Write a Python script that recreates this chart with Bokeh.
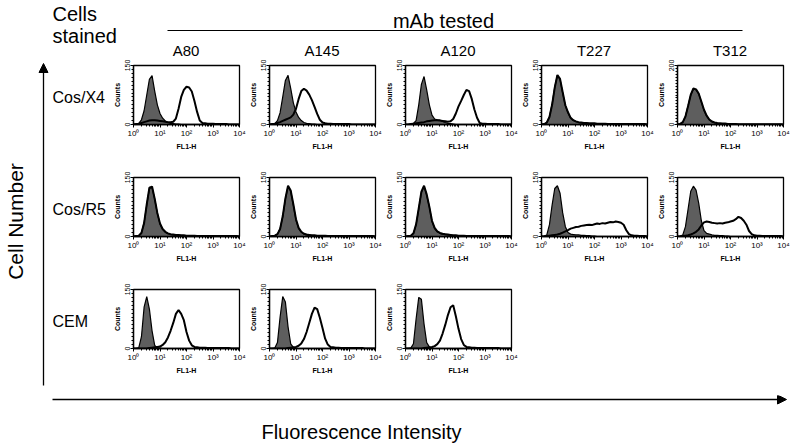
import math
from bokeh.plotting import figure
from bokeh.layouts import row, column
from bokeh.models import Range1d, FixedTicker, CustomJSTickFormatter, Arrow, NormalHead
from bokeh.core.properties import value
from bokeh.embed import file_html
from bokeh.resources import INLINE

# ---------------- data ----------------
# channel positions, log10(FL1-H)
LOG_FL1 = [0.0, 0.1, 0.2, 0.3, 0.4, 0.5, 0.6, 0.7, 0.8, 0.9,
           1.0, 1.1, 1.2, 1.3, 1.4, 1.5, 1.6, 1.7, 1.8, 1.9,
           2.0, 2.1, 2.2, 2.3, 2.4, 2.5, 2.6, 2.7, 2.8, 2.9,
           3.0, 3.1, 3.2, 3.3, 3.4, 3.5, 3.6, 3.7, 3.8, 3.9, 4.0]

CELLS = ["Cos/X4", "Cos/R5", "CEM"]
MABS = ["A80", "A145", "A120", "T227", "T312"]
Y_MAX = [[150, 150, 150, 150, 200],
         [150, 150, 150, 150, 150],
         [150, 150, 150]]

# Cos/X4 row
CTRL_X4_A80 = [0,1,3,12,35,75,115,124,85,50, 28,16,9,5,3,2,1,1,0,0, 0,0,0,0,0,0,0,0,0,0, 0,0,0,0,0,0,0,0,0,0, 0]
MAB_X4_A80 = [0,1,2,4,6,8,10,11,11,10, 9,8,7,6,6,7,15,40,70,88, 96,94,84,60,32,10,4,3,2,2, 2,1,1,1,1,1,0,0,0,0, 0]
CTRL_X4_A145 = [0,1,2,10,30,70,112,125,92,55, 32,18,10,5,3,2,1,1,0,0, 0,0,0,0,0,0,0,0,0,0, 0,0,0,0,0,0,0,0,0,0, 0]
MAB_X4_A145 = [0,1,2,4,6,9,12,15,18,25, 40,65,85,91,86,76,62,45,27,12, 5,3,2,2,1,1,1,1,1,1, 1,0,0,0,0,0,0,0,0,0, 0]
CTRL_X4_A120 = [0,0,1,3,10,50,102,122,88,50, 24,14,12,11,8,5,3,2,1,0, 0,0,0,0,0,0,0,0,0,0, 0,0,0,0,0,0,0,0,0,0, 0]
MAB_X4_A120 = [0,0,1,2,3,4,5,6,8,9, 10,11,11,10,9,8,7,8,14,28, 46,60,75,88,85,65,38,17,4,2, 2,1,1,1,1,1,0,0,0,0, 0]
CTRL_X4_T227 = [0,1,5,20,52,95,125,115,80,48, 30,16,10,7,5,4,3,3,2,2, 2,1,1,1,0,0,0,0,0,0, 0,0,0,0,0,0,0,0,0,0, 0]
MAB_X4_T227 = [0,1,5,19,50,94,126,116,82,49, 31,17,11,8,6,5,4,4,3,3, 3,2,2,2,2,1,1,1,1,1, 1,1,1,1,1,1,1,1,1,1, 0]
CTRL_X4_T312 = [0,2,8,28,64,100,120,118,104,76, 48,28,16,9,6,4,3,2,2,1, 1,0,0,0,0,0,0,0,0,0, 0,0,0,0,0,0,0,0,0,0, 0]
MAB_X4_T312 = [0,2,8,27,63,101,122,119,105,78, 50,30,17,10,7,5,4,3,3,2, 2,2,2,1,1,1,1,1,1,1, 1,1,1,1,1,1,1,1,1,1, 0]

# Cos/R5 row
CTRL_R5_A80 = [0,1,2,10,35,80,122,125,95,58, 32,18,11,7,5,4,3,3,2,2, 1,0,0,0,0,0,0,0,0,0, 0,0,0,0,0,0,0,0,0,0, 0]
MAB_R5_A80 = [0,1,2,9,34,82,124,127,96,60, 33,19,12,8,6,5,4,4,3,3, 2,2,2,2,1,1,1,1,1,1, 1,1,1,1,1,1,1,1,1,1, 0]
CTRL_R5_A145 = [0,1,2,6,20,50,95,128,115,80, 42,20,11,6,4,3,2,2,1,0, 0,0,0,0,0,0,0,0,0,0, 0,0,0,0,0,0,0,0,0,0, 0]
MAB_R5_A145 = [0,1,2,6,19,52,97,129,117,82, 44,22,12,7,5,4,3,3,2,2, 2,2,1,1,1,1,1,1,1,1, 1,1,1,1,1,1,1,1,1,1, 0]
CTRL_R5_A120 = [0,1,2,8,30,70,112,128,105,75, 38,20,12,8,6,5,4,3,2,2, 1,0,0,0,0,0,0,0,0,0, 0,0,0,0,0,0,0,0,0,0, 0]
MAB_R5_A120 = [0,1,2,8,31,72,114,129,107,76, 40,22,13,9,7,6,5,4,3,3, 2,2,2,1,1,1,1,1,1,1, 1,1,1,1,1,1,1,1,1,1, 0]
CTRL_R5_T227 = [0,1,4,30,80,122,129,110,60,25, 10,6,5,4,4,3,3,2,2,1, 1,0,0,0,0,0,0,0,0,0, 0,0,0,0,0,0,0,0,0,0, 0]
MAB_R5_T227 = [0,0,1,2,3,4,5,7,10,13, 16,20,22,24,25,27,28,29,30,29, 31,33,32,34,33,35,37,36,38,37, 35,30,16,6,3,2,2,1,1,1, 0]
CTRL_R5_T312 = [0,1,4,25,70,115,128,118,85,40, 15,8,6,4,3,3,2,2,1,1, 0,0,0,0,0,0,0,0,0,0, 0,0,0,0,0,0,0,0,0,0, 0]
MAB_R5_T312 = [0,0,1,2,3,5,8,12,18,28, 36,38,37,35,34,33,34,33,35,36, 38,40,44,50,47,40,30,14,6,3, 2,2,1,1,1,1,1,1,1,1, 0]

# CEM row
CTRL_CEM_A80 = [0,0,2,30,105,132,100,45,8,2, 1,0,0,0,0,0,0,0,0,0, 0,0,0,0,0,0,0,0,0,0, 0,0,0,0,0,0,0,0,0,0, 0]
MAB_CEM_A80 = [0,0,0,0,0,0,1,2,3,4, 5,9,16,28,45,65,88,98,88,72, 42,20,8,4,3,2,2,2,1,1, 1,1,1,1,1,1,1,0,0,0, 0]
CTRL_CEM_A145 = [0,0,1,15,80,132,118,55,12,3, 1,0,0,0,0,0,0,0,0,0, 0,0,0,0,0,0,0,0,0,0, 0,0,0,0,0,0,0,0,0,0, 0]
MAB_CEM_A145 = [0,0,0,0,0,0,0,1,2,3, 4,7,13,24,42,65,88,104,100,78, 52,25,10,4,3,2,2,1,1,1, 1,1,1,1,1,1,0,0,0,0, 0]
CTRL_CEM_A120 = [0,0,1,12,75,130,125,62,15,4, 1,0,0,0,0,0,0,0,0,0, 0,0,0,0,0,0,0,0,0,0, 0,0,0,0,0,0,0,0,0,0, 0]
MAB_CEM_A120 = [0,0,0,0,0,0,0,1,2,3, 4,6,11,20,38,60,85,105,110,82, 50,24,9,4,3,2,2,1,1,1, 1,1,1,1,1,1,0,0,0,0, 0]

PANELS = [
    [(CTRL_X4_A80, MAB_X4_A80), (CTRL_X4_A145, MAB_X4_A145), (CTRL_X4_A120, MAB_X4_A120),
     (CTRL_X4_T227, MAB_X4_T227), (CTRL_X4_T312, MAB_X4_T312)],
    [(CTRL_R5_A80, MAB_R5_A80), (CTRL_R5_A145, MAB_R5_A145), (CTRL_R5_A120, MAB_R5_A120),
     (CTRL_R5_T227, MAB_R5_T227), (CTRL_R5_T312, MAB_R5_T312)],
    [(CTRL_CEM_A80, MAB_CEM_A80), (CTRL_CEM_A145, MAB_CEM_A145), (CTRL_CEM_A120, MAB_CEM_A120)],
]

# ---------------- layout / style ----------------
FONT = "Liberation Sans"
GRAY = "#5e5e5e"
LEFT_W = 110
PW, PH = 136, 112
BL, BR, BT, BB = 22, 7, 6, 47
FW = PW - BL - BR
FH = PH - BT - BB
TOP_H = 59
BOT_H = 50
PAGE_W = LEFT_W + 5 * PW
GRID_TOP = TOP_H
GRID_BOT = GRID_TOP + 3 * PH

XS = [10 ** v for v in LOG_FL1]

SUP = CustomJSTickFormatter(code="""
const s = ['\\u2070','\\u00b9','\\u00b2','\\u00b3','\\u2074'];
return '10' + s[Math.round(Math.log10(tick))];
""")

X_MINOR = [m * 10 ** k for k in range(4) for m in range(2, 10)]


def panel(ctrl, mab, ymax):
    p = figure(width=PW, height=PH, x_axis_type="log",
               x_range=Range1d(1, 10000), y_range=Range1d(0, ymax),
               output_backend="svg", toolbar_location=None,
               min_border_left=BL, min_border_right=BR,
               min_border_top=BT, min_border_bottom=BB)
    p.grid.visible = False
    p.outline_line_color = "black"
    p.outline_line_width = 1.3
    p.background_fill_color = "white"
    p.border_fill_color = "white"
    p.varea(x=XS, y1=0, y2=ctrl, fill_color=GRAY, fill_alpha=1)
    p.line(XS, ctrl, line_color="black", line_width=1.2)
    p.line(XS, mab, line_color="black", line_width=2)

    xa = p.xaxis[0]
    xa.ticker = FixedTicker(ticks=[1, 10, 100, 1000, 10000], minor_ticks=X_MINOR)
    xa.formatter = SUP
    xa.axis_label = "FL1-H"
    ya = p.yaxis[0]
    ya.ticker = FixedTicker(ticks=[0, ymax], minor_ticks=list(range(0, ymax + 1, 10)))
    ya.axis_label = "Counts"
    ya.major_label_orientation = "vertical"
    for ax in (xa, ya):
        ax.axis_line_color = "black"
        ax.axis_line_width = 1.3
        ax.major_tick_line_color = "black"
        ax.minor_tick_line_color = "black"
        ax.major_tick_out = 3
        ax.major_tick_in = 0
        ax.minor_tick_out = 2
        ax.minor_tick_in = 0
        ax.major_label_standoff = 1
        ax.axis_label_standoff = 1
        ax.major_label_text_font = FONT
        ax.major_label_text_font_size = "8px"
        ax.major_label_text_color = "black"
        ax.axis_label_text_font = FONT
        ax.axis_label_text_font_size = "7px"
        ax.axis_label_text_font_style = "bold"
        ax.axis_label_text_color = "black"
    ya.major_label_text_font_size = "7px"
    xa.axis_label_standoff = 2
    return p


def blank(w, h, x0, x1, y_top, y_bot):
    p = figure(width=w, height=h, x_range=Range1d(x0, x1), y_range=Range1d(y_bot, y_top),
               x_axis_location=None, y_axis_location=None,
               output_backend="svg", toolbar_location=None, min_border=0)
    p.grid.visible = False
    p.outline_line_color = None
    p.background_fill_color = "white"
    p.border_fill_color = "white"
    return p


# frame centres (page pixels)
col_cx = [LEFT_W + i * PW + BL + FW / 2 for i in range(len(MABS))]
row_cy = [GRID_TOP + r * PH + BT + FH / 2 for r in range(len(CELLS))]

# top header
top = blank(PAGE_W, TOP_H, 0, PAGE_W, 0, TOP_H)
top.text(x=[52, 52], y=[13, 35], text=["Cells", "stained"], text_font=value(FONT),
         text_font_size="20px", text_align="left", text_baseline="middle", text_color="black")
top.text(x=[443], y=[20], text=["mAb tested"], text_font=value(FONT),
         text_font_size="20px", text_align="center", text_baseline="middle", text_color="black")
top.segment(x0=[167], y0=[30], x1=[742], y1=[30], line_color="black", line_width=1.2)
top.text(x=col_cx, y=[50] * len(MABS), text=MABS, text_font=value(FONT),
         text_font_size="15px", text_align="center", text_baseline="middle", text_color="black")

# left labels
left = blank(LEFT_W, 3 * PH, 0, LEFT_W, GRID_TOP, GRID_BOT)
left.add_layout(Arrow(end=NormalHead(size=9, fill_color="black", line_color="black"),
                      x_start=43, y_start=385, x_end=43, y_end=63,
                      line_color="black", line_width=1.3))
left.text(x=[15], y=[221], text=["Cell Number"], angle=math.pi / 2, text_font=value(FONT),
          text_font_size="21px", text_align="center", text_baseline="middle", text_color="black")
left.text(x=[52] * len(CELLS), y=[c + 2 for c in row_cy], text=CELLS, text_font=value(FONT),
          text_font_size="16px", text_align="left", text_baseline="middle", text_color="black")

# bottom axis label
bottom = blank(PAGE_W, BOT_H, 0, PAGE_W, GRID_BOT, GRID_BOT + BOT_H)
bottom.add_layout(Arrow(end=NormalHead(size=9, fill_color="black", line_color="black"),
                        x_start=52, y_start=399, x_end=786, y_end=399,
                        line_color="black", line_width=1.3))
bottom.text(x=[361], y=[431], text=["Fluorescence Intensity"], text_font=value(FONT),
            text_font_size="20px", text_align="center", text_baseline="middle", text_color="black")

rows = []
for r, panels in enumerate(PANELS):
    rows.append(row([panel(c, m, Y_MAX[r][i]) for i, (c, m) in enumerate(panels)], spacing=0))
grid = column(rows, spacing=0)

layout = column(top, row(left, grid, spacing=0), bottom, spacing=0)

open("out.html", "w").write(file_html(layout, INLINE))
